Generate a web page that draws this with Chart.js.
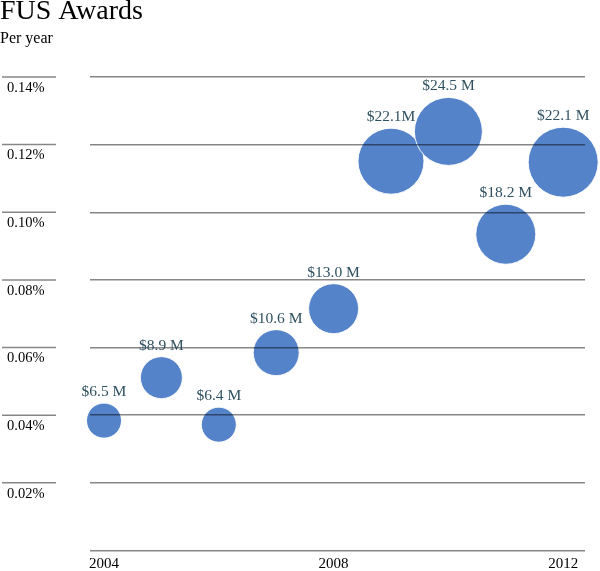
<!DOCTYPE html>
<html>
<head>
<meta charset="utf-8">
<title>FUS Awards</title>
<script src="https://cdn.jsdelivr.net/npm/chart.js@4/dist/chart.umd.min.js"></script>
<style>
  html, body { margin: 0; padding: 0; background: #fff; }
</style>
</head>
<body>
<canvas id="fusChart" width="600" height="571"></canvas>
<script>
// values
const years = [2004, 2005, 2006, 2007, 2008, 2009, 2010, 2011, 2012];
const shares = [0.0384, 0.0511, 0.0372, 0.0585, 0.0715, 0.1151, 0.1239, 0.0935, 0.1148]; // % per year
const amountLabels = ['$6.5 M', '$8.9 M', '$6.4 M', '$10.6 M', '$13.0 M', '$22.1M', '$24.5 M', '$18.2 M', '$22.1 M'];
const radii = [17.5, 21, 17.5, 23, 25, 33, 34, 30, 35];
const yTicks = [0, 0.02, 0.04, 0.06, 0.08, 0.10, 0.12, 0.14];
const xTicks = [2004, 2008, 2012];

const serif = '"Liberation Serif", "Times New Roman", serif';
const gridColor = 'rgba(0,0,0,0.47)';

// y labels sit under short lines at the far left, away from the plot
const sideTicks = {
  id: 'sideTicks',
  afterDraw(chart) {
    const { ctx, scales: { y } } = chart;
    ctx.save();
    ctx.strokeStyle = gridColor;
    ctx.lineWidth = 1.5;
    ctx.font = '14.5px ' + serif;
    ctx.fillStyle = '#000';
    ctx.textAlign = 'left';
    ctx.textBaseline = 'middle';
    y.ticks.forEach((t) => {
      if (t.value === 0) return;
      const py = y.getPixelForValue(t.value);
      ctx.beginPath();
      ctx.moveTo(2, py);
      ctx.lineTo(56, py);
      ctx.stroke();
      ctx.fillText(t.value.toFixed(2) + '%', 7, py + 11);
    });
    ctx.restore();
  }
};

const bubbleLabels = {
  id: 'bubbleLabels',
  afterDraw(chart) {
    const { ctx } = chart;
    const meta = chart.getDatasetMeta(0);
    ctx.save();
    ctx.font = '15.5px ' + serif;
    ctx.fillStyle = '#2f5060';
    ctx.textAlign = 'center';
    ctx.textBaseline = 'alphabetic';
    meta.data.forEach((pt, i) => {
      ctx.fillText(amountLabels[i], pt.x, pt.y - pt.options.radius - 7);
    });
    ctx.restore();
  }
};

new Chart(document.getElementById('fusChart'), {
  type: 'bubble',
  data: {
    datasets: [{
      data: years.map((x, i) => ({ x, y: shares[i], r: radii[i] })),
      backgroundColor: '#5483c9',
      borderColor: 'rgba(255,255,255,0.9)',
      borderWidth: 1,
      clip: false
    }]
  },
  options: {
    responsive: false,
    animation: false,
    devicePixelRatio: 1,
    layout: { autoPadding: false, padding: { left: 0, right: 15, top: 0, bottom: 0 } },
    plugins: {
      legend: { display: false },
      tooltip: { enabled: false },
      title: {
        display: true,
        text: 'FUS Awards',
        align: 'start',
        color: '#000',
        font: { family: serif, size: 28, weight: 'normal', lineHeight: 0.82 },
        padding: { top: 0, bottom: 0 }
      },
      subtitle: {
        display: true,
        text: 'Per year',
        align: 'start',
        color: '#000',
        font: { family: serif, size: 16, weight: 'normal', lineHeight: 1 },
        padding: { top: 7.5, bottom: 30.5 }
      }
    },
    scales: {
      x: {
        type: 'linear',
        min: 2003.756,
        max: 2012.38,
        afterBuildTicks: (s) => { s.ticks = xTicks.map((v) => ({ value: v })); },
        afterFit: (s) => { s.height = 20.5; s.paddingLeft = 0; s.paddingRight = 0; },
        grid: { display: false, drawTicks: false },
        border: { display: false },
        ticks: {
          color: '#000',
          padding: 5,
          font: { family: serif, size: 15 },
          callback: (v) => String(v)
        }
      },
      y: {
        min: 0,
        max: 0.14,
        afterBuildTicks: (s) => { s.ticks = yTicks.map((v) => ({ value: v })); },
        afterFit: (s) => { s.width = 90; },
        grid: { color: gridColor, lineWidth: 1.5, drawTicks: false, z: 1 },
        border: { display: false },
        ticks: { display: false }
      }
    }
  },
  plugins: [sideTicks, bubbleLabels]
});
</script>
</body>
</html>
